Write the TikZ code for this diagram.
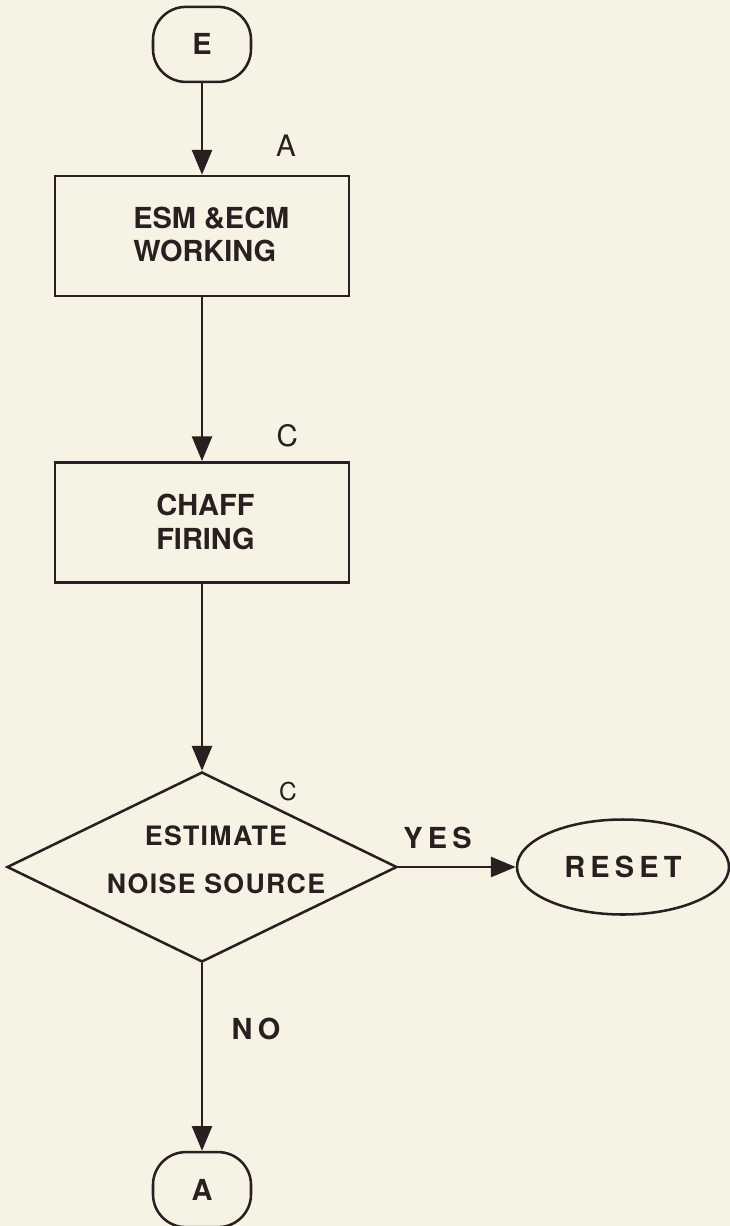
\documentclass[tikz,border=0pt]{standalone}
\usepackage{fontspec}
\setmainfont{TeX Gyre Heros}
\newfontfamily\spacedbf[LetterSpace=18]{TeX Gyre Heros}
\newfontfamily\diamondbf[LetterSpace=5]{TeX Gyre Heros}
\usetikzlibrary{arrows.meta, shapes.geometric}
\definecolor{paper}{RGB}{246,243,229}
\definecolor{ink}{RGB}{40,32,32}

\begin{document}
\begin{tikzpicture}[>={Triangle[length=0.62cm, width=0.5cm]}, line width=1.8pt, color=ink,
    terminal/.style={draw, rounded corners=0.82cm, minimum width=2.45cm, minimum height=1.875cm, inner sep=0, font=\bfseries\fontsize{20.6}{24}\selectfont},
    procbox/.style={draw, minimum width=7.35cm, minimum height=3cm, inner sep=0},
    boxtext/.style={align=left, inner sep=0, anchor=west, font=\bfseries\fontsize{20.6}{24.1}\selectfont},
    decision/.style={draw, diamond, minimum width=9.75cm, minimum height=4.75cm, inner sep=0},
    diamtext/.style={align=center, inner sep=0, font=\diamondbf\bfseries\fontsize{19}{34}\selectfont},
    endbox/.style={draw, ellipse, minimum width=5.3cm, minimum height=2.375cm, inner sep=0, font=\spacedbf\bfseries\fontsize{20.6}{24}\selectfont},
    branch/.style={inner sep=0, font=\spacedbf\bfseries\fontsize{20.6}{24}\selectfont},
    tag/.style={inner sep=0, font=\fontsize{21}{24}\selectfont}]
    % Page
    \useasboundingbox (0,0) rectangle (18.25,-30.65);
    \fill[paper] (0,0) rectangle (18.25,-30.65);

    % Entry connector
    \node[terminal] (entry) at (5.05,-1.11) {E};

    % ESM and ECM working
    \node[procbox] (work) at (5.05,-5.9) {};
    \node[boxtext] (worktxt) at (3.3,-5.86) {ESM \&ECM\\WORKING};
    \node[tag] (worktag) at (7.15,-3.65) {A};

    % Chaff firing
    \node[procbox] (chaff) at (5.05,-13.06) {};
    \node[boxtext] (chafftxt) at (3.875,-13.05) {CHAFF\\FIRING};
    \node[tag] (chafftag) at (7.18,-10.89) {C};

    % Decision
    \node[decision] (est) at (5.05,-21.675) {};
    \node[diamtext] (esttxt) at (5.4,-21.5) {ESTIMATE\\NOISE SOURCE};
    \node[tag, font=\fontsize{17.5}{20}\selectfont] (esttag) at (7.2,-19.79) {C};

    % Outcomes
    \node[endbox] (reset) at (15.575,-21.675) {RESET};
    \node[terminal] (exit) at (5.05,-29.74) {A};

    % Flow
    \draw[->] (entry) -- (work);
    \draw[->] (work) -- (chaff);
    \draw[->] (chaff) -- (est);
    \draw[->] (est.east) -- (reset.west);
    \draw[->] (est.south) -- (exit.north);

    % Branch labels
    \node[branch] (yes) at (10.94,-20.94) {YES};
    \node[branch] (no) at (6.4,-25.725) {NO};
\end{tikzpicture}
\end{document}
